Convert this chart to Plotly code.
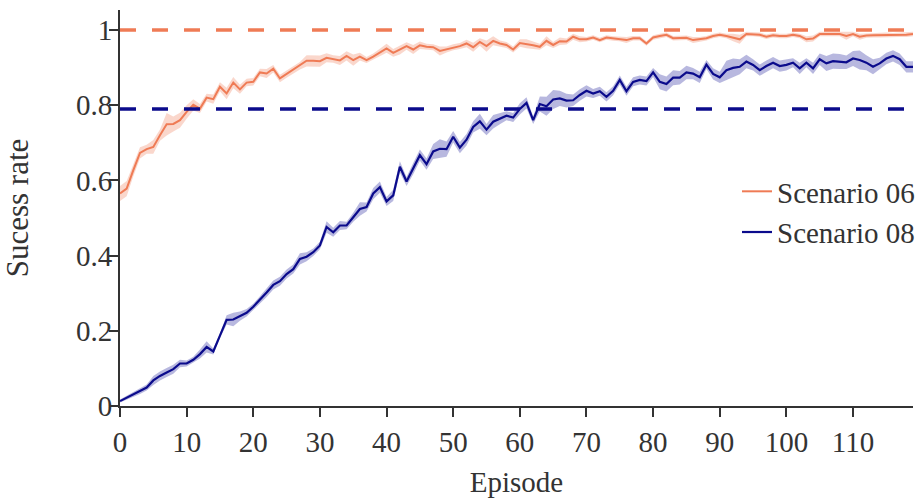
import plotly.graph_objects as go

episodes = list(range(120))

scenario_06_mean = [
    0.565, 0.578, 0.627, 0.673, 0.683, 0.689, 0.720, 0.749, 0.750, 0.760,
    0.782, 0.801, 0.791, 0.820, 0.816, 0.849, 0.831, 0.860, 0.842, 0.860,
    0.862, 0.887, 0.884, 0.897, 0.871, 0.883, 0.895, 0.905, 0.918, 0.918,
    0.917, 0.926, 0.923, 0.919, 0.931, 0.920, 0.929, 0.920, 0.929, 0.940,
    0.951, 0.939, 0.947, 0.957, 0.948, 0.959, 0.955, 0.954, 0.944, 0.948,
    0.954, 0.957, 0.964, 0.954, 0.968, 0.957, 0.971, 0.964, 0.960, 0.948,
    0.965, 0.963, 0.959, 0.955, 0.971, 0.960, 0.970, 0.969, 0.982, 0.975,
    0.975, 0.980, 0.973, 0.980, 0.977, 0.976, 0.973, 0.978, 0.978, 0.964,
    0.980, 0.984, 0.987, 0.978, 0.979, 0.979, 0.973, 0.975, 0.978, 0.984,
    0.987, 0.984, 0.980, 0.975, 0.989, 0.989, 0.987, 0.982, 0.986, 0.984,
    0.984, 0.987, 0.984, 0.975, 0.977, 0.989, 0.989, 0.989, 0.989, 0.984,
    0.989, 0.982, 0.985, 0.986, 0.986, 0.987, 0.986, 0.987, 0.987, 0.989,
]

scenario_06_spread = [
    0.020, 0.020, 0.016, 0.015, 0.012, 0.018, 0.015, 0.030, 0.020, 0.020,
    0.018, 0.015, 0.012, 0.010, 0.012, 0.012, 0.015, 0.015, 0.012, 0.010,
    0.010, 0.010, 0.012, 0.010, 0.010, 0.010, 0.010, 0.010, 0.015, 0.015,
    0.015, 0.012, 0.010, 0.012, 0.012, 0.015, 0.010, 0.008, 0.008, 0.010,
    0.012, 0.010, 0.012, 0.010, 0.012, 0.010, 0.008, 0.008, 0.012, 0.008,
    0.008, 0.008, 0.010, 0.012, 0.010, 0.015, 0.012, 0.008, 0.008, 0.008,
    0.010, 0.012, 0.010, 0.008, 0.012, 0.008, 0.010, 0.008, 0.008, 0.008,
    0.006, 0.006, 0.006, 0.006, 0.006, 0.006, 0.008, 0.006, 0.006, 0.006,
    0.006, 0.006, 0.006, 0.006, 0.006, 0.006, 0.008, 0.006, 0.006, 0.006,
    0.006, 0.006, 0.010, 0.012, 0.006, 0.006, 0.006, 0.006, 0.006, 0.006,
    0.006, 0.006, 0.006, 0.008, 0.008, 0.006, 0.006, 0.006, 0.006, 0.010,
    0.006, 0.008, 0.006, 0.006, 0.006, 0.006, 0.006, 0.006, 0.006, 0.006,
]

scenario_08_mean = [
    0.013, 0.022, 0.031, 0.040, 0.049, 0.068, 0.080, 0.089, 0.098, 0.113,
    0.113, 0.123, 0.138, 0.157, 0.145, 0.187, 0.229, 0.230, 0.239, 0.248,
    0.264, 0.282, 0.302, 0.322, 0.332, 0.351, 0.364, 0.391, 0.397, 0.409,
    0.427, 0.476, 0.462, 0.480, 0.480, 0.502, 0.524, 0.529, 0.565, 0.582,
    0.544, 0.560, 0.636, 0.597, 0.631, 0.667, 0.643, 0.677, 0.684, 0.683,
    0.716, 0.687, 0.708, 0.742, 0.757, 0.735, 0.756, 0.764, 0.772, 0.767,
    0.790, 0.806, 0.760, 0.803, 0.797, 0.815, 0.818, 0.812, 0.813, 0.827,
    0.838, 0.831, 0.837, 0.822, 0.838, 0.867, 0.837, 0.862, 0.867, 0.864,
    0.887, 0.862, 0.856, 0.873, 0.873, 0.887, 0.884, 0.874, 0.908, 0.883,
    0.874, 0.893, 0.899, 0.902, 0.916, 0.907, 0.893, 0.904, 0.913, 0.904,
    0.907, 0.913, 0.898, 0.913, 0.898, 0.922, 0.911, 0.917, 0.916, 0.914,
    0.924, 0.920, 0.913, 0.902, 0.911, 0.924, 0.931, 0.922, 0.902, 0.902,
]

scenario_08_spread = [
    0.004, 0.005, 0.006, 0.008, 0.008, 0.012, 0.012, 0.012, 0.012, 0.010,
    0.008, 0.008, 0.012, 0.015, 0.008, 0.006, 0.012, 0.018, 0.012, 0.010,
    0.008, 0.010, 0.012, 0.012, 0.012, 0.012, 0.012, 0.015, 0.012, 0.010,
    0.010, 0.015, 0.012, 0.012, 0.010, 0.012, 0.018, 0.012, 0.015, 0.015,
    0.012, 0.015, 0.015, 0.012, 0.015, 0.015, 0.015, 0.020, 0.025, 0.020,
    0.015, 0.015, 0.015, 0.015, 0.020, 0.015, 0.018, 0.015, 0.012, 0.012,
    0.015, 0.015, 0.010, 0.020, 0.025, 0.025, 0.020, 0.018, 0.015, 0.015,
    0.015, 0.012, 0.012, 0.012, 0.012, 0.012, 0.012, 0.012, 0.012, 0.012,
    0.012, 0.020, 0.020, 0.020, 0.018, 0.018, 0.015, 0.015, 0.012, 0.015,
    0.015, 0.025, 0.025, 0.020, 0.018, 0.015, 0.015, 0.015, 0.015, 0.015,
    0.015, 0.012, 0.015, 0.012, 0.015, 0.015, 0.020, 0.020, 0.020, 0.018,
    0.020, 0.025, 0.020, 0.020, 0.015, 0.015, 0.015, 0.015, 0.015, 0.015,
]

target_06 = 1.0
target_08 = 0.79

series_names = ["Scenario 06", "Scenario 08"]
x_ticks = [0, 10, 20, 30, 40, 50, 60, 70, 80, 90, 100, 110]
y_ticks = [0, 0.2, 0.4, 0.6, 0.8, 1.0]
y_tick_labels = ["0", "0.2", "0.4", "0.6", "0.8", "1"]

ORANGE = "#ef7b55"
ORANGE_BAND = "rgba(239,123,85,0.30)"
NAVY = "#0b0b8c"
NAVY_BAND = "rgba(20,20,150,0.30)"
FONT = "Liberation Serif"
TXT = "#333333"

fig = go.Figure()

for mean, spread, band in [
    (scenario_06_mean, scenario_06_spread, ORANGE_BAND),
    (scenario_08_mean, scenario_08_spread, NAVY_BAND),
]:
    upper = [m + s for m, s in zip(mean, spread)]
    lower = [m - s for m, s in zip(mean, spread)]
    fig.add_trace(go.Scatter(
        x=episodes + episodes[::-1],
        y=upper + lower[::-1],
        fill="toself", fillcolor=band, line=dict(width=0),
        mode="lines", showlegend=False, hoverinfo="skip",
    ))

fig.add_trace(go.Scatter(x=episodes, y=scenario_06_mean, mode="lines",
                         name=series_names[0], line=dict(color=ORANGE, width=2)))
fig.add_trace(go.Scatter(x=episodes, y=scenario_08_mean, mode="lines",
                         name=series_names[1], line=dict(color=NAVY, width=2.2)))

fig.add_hline(y=target_06, line=dict(color=ORANGE, width=3.5, dash="16px,16px"))
fig.add_hline(y=target_08, line=dict(color=NAVY, width=3.5, dash="16px,16px"))

fig.update_layout(
    width=920, height=498,
    margin=dict(l=120, r=7, t=10, b=92, autoexpand=False),
    paper_bgcolor="white", plot_bgcolor="white",
    font=dict(family=FONT, size=29, color=TXT),
    legend=dict(xref="container", x=1.0, xanchor="right", y=0.49, yanchor="middle",
                bgcolor="rgba(0,0,0,0)", font=dict(size=29, color=TXT),
                tracegroupgap=0),
)
fig.update_xaxes(
    range=[0, 119], tickvals=x_ticks, showgrid=False, zeroline=False,
    showline=True, linecolor="#333333", linewidth=2,
    ticks="outside", ticklen=9, tickwidth=1.5, tickcolor="#333333",
    tickfont=dict(size=29),
    title=dict(text="Episode", standoff=35, font=dict(size=29, color=TXT)),
)
fig.update_yaxes(
    range=[0, 1.053], tickvals=y_ticks, ticktext=y_tick_labels,
    showgrid=False, zeroline=False,
    showline=True, linecolor="#333333", linewidth=2,
    ticks="outside", ticklen=9, tickwidth=1.5, tickcolor="#333333",
    tickfont=dict(size=29), ticklabelstandoff=-9,
    title=dict(text="Sucess rate", standoff=52, font=dict(size=31, color=TXT)),
)

# remove the browser's default page margin so the 920x498 figure fills the window
fig.write_html(
    "out.html",
    config={"displayModeBar": False},
    post_script="document.body.style.margin='0';document.body.style.overflow='hidden';",
)
